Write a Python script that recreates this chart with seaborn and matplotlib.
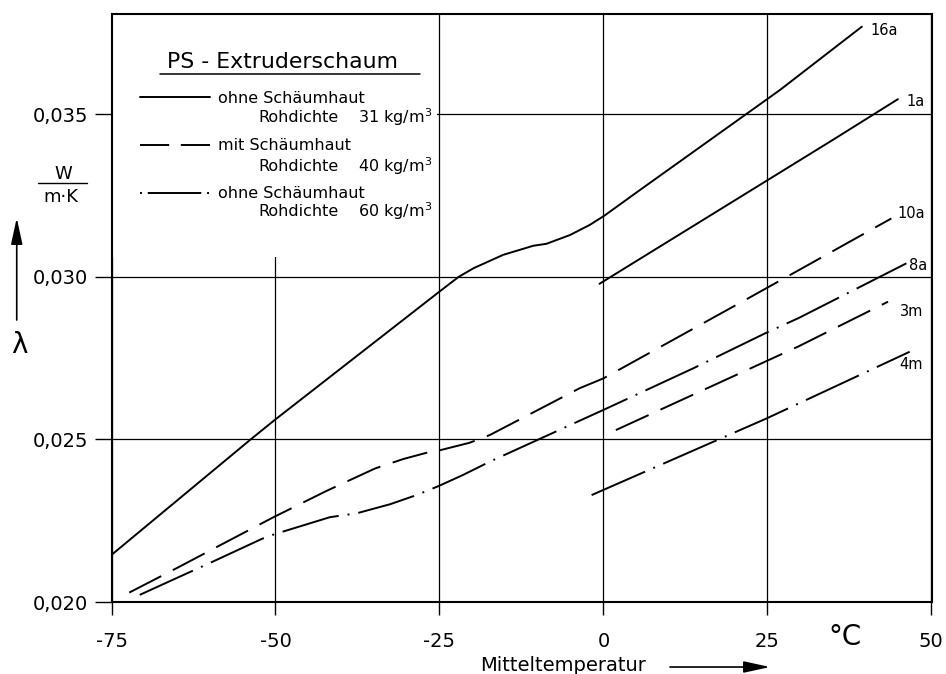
import matplotlib
matplotlib.use("Agg")
import numpy as np
import pandas as pd
import matplotlib.pyplot as plt
import seaborn as sns
from matplotlib.lines import Line2D
from matplotlib.patches import Rectangle

sns.set_style("white")
plt.rcParams['font.family'] = ['DejaVu Sans']
plt.rcParams['mathtext.fontset'] = 'dejavusans'
for key in ['text.color', 'axes.labelcolor', 'xtick.color', 'ytick.color', 'axes.edgecolor']:
    plt.rcParams[key] = 'black'

# ---------------- data ----------------
t_16a = [-75.0, -53.8, -50.0, -25.0, -22.1, -19.8, -15.3, -10.7, -8.7, -5.1, -2.1, 0.1, 5.6, 26.9, 39.4]
lam_16a = [0.02145, 0.02500, 0.02562, 0.02955, 0.03000, 0.03027, 0.03068, 0.03096, 0.03102, 0.03129,
           0.03160, 0.03188, 0.03268, 0.03575, 0.03770]

t_1a = [-0.6, 35.0, 44.9]
lam_1a = [0.02979, 0.03422, 0.03547]

t_10a = [-72.3, -64.8, -58.7, -50.3, -42.2, -34.8, -30.5, -27.0, -25.1, -20.4, -17.3, -3.6, 0.0, 21.6, 29.7, 43.9]
lam_10a = [0.02029, 0.02107, 0.02172, 0.02261, 0.02342, 0.02411, 0.02440, 0.02459, 0.02466, 0.02490,
           0.02514, 0.02658, 0.02688, 0.02929, 0.03020, 0.03180]

t_8a = [-70.7, -63.3, -59.8, -52.0, -50.1, -41.7, -37.6, -32.5, -28.5, -25.1, -21.4, -17.3, -3.6, 0.0,
        13.7, 24.9, 29.7, 46.2]
lam_8a = [0.02022, 0.02090, 0.02122, 0.02195, 0.02209, 0.02261, 0.02273, 0.02301, 0.02329, 0.02357,
          0.02391, 0.02432, 0.02558, 0.02591, 0.02719, 0.02829, 0.02873, 0.03042]

t_3m = [1.9, 29.7, 43.4]
lam_3m = [0.02529, 0.02786, 0.02924]

t_4m = [-1.8, 24.9, 46.7]
lam_4m = [0.02329, 0.02565, 0.02770]

curve_names = ["16a", "1a", "10a", "8a", "3m", "4m"]
x_ticks = [-75, -50, -25, 0, 25, 50]
x_ticklabels = ["-75", "-50", "-25", "0", "25", "50"]
y_ticks = [0.020, 0.025, 0.030, 0.035]
y_ticklabels = ["0,020", "0,025", "0,030", "0,035"]
legend_title = "PS - Extruderschaum"
legend_labels = ["ohne Schäumhaut", "mit Schäumhaut", "ohne Schäumhaut"]
legend_density = ["31 kg/m$^3$", "40 kg/m$^3$", "60 kg/m$^3$"]

series = {
    "16a": (t_16a, lam_16a),
    "1a": (t_1a, lam_1a),
    "10a": (t_10a, lam_10a),
    "8a": (t_8a, lam_8a),
    "3m": (t_3m, lam_3m),
    "4m": (t_4m, lam_4m),
}
df = pd.concat([pd.DataFrame({"T": t, "lam": v, "curve": n}) for n, (t, v) in series.items()],
               ignore_index=True)

# ---------------- styles ----------------
LW = 1.4
dash_long = (18.5, 6.7)
dash_dot = (30, 4.6, 1, 4.6)
dash_map = {"16a": "", "1a": "", "10a": dash_long, "3m": dash_long, "8a": dash_dot, "4m": dash_dot}

fig = plt.figure(figsize=(9.46, 6.74), dpi=100)
ax = fig.add_axes([0.1179, 0.1068, 0.8673, 0.8724])

sns.lineplot(data=df, x="T", y="lam", hue="curve", style="curve",
             palette={n: "black" for n in curve_names}, dashes=dash_map,
             estimator=None, sort=False, legend=False, lw=LW, ax=ax)

ax.set_xlim(-75, 50.1)
ax.set_ylim(0.020, 0.03809)
ax.set_xticks(x_ticks)
ax.set_xticklabels(x_ticklabels)
ax.set_yticks(y_ticks)
ax.set_yticklabels(y_ticklabels)
ax.set_xlabel("")
ax.set_ylabel("")

ax.set_axisbelow(True)
ax.grid(True, color="black", lw=0.9)
for s in ax.spines.values():
    s.set_visible(True)
    s.set_color("black")
    s.set_linewidth(1.5)
    s.set_zorder(10)
ax.tick_params(axis="x", bottom=True, direction="out", length=9.4, width=1.0, pad=12,
               labelsize=14, colors="black")
ax.tick_params(axis="y", left=True, direction="out", length=12, width=1.0, pad=5,
               labelsize=14, colors="black")

X0, X1, Y0, Y1 = 111.5, 932.0, 602.0, 14.0
def xf(px):
    return (px - X0) / (X1 - X0)
def yf(py):
    return (Y0 - py) / (Y0 - Y1)

# white box behind the legend hiding the grid
ax.add_patch(Rectangle((0.002, yf(257)), xf(437) - 0.002, 1 - yf(257) - 0.002,
                       transform=ax.transAxes, facecolor="white", edgecolor="none", zorder=1))

# curve labels at the line ends
label_offsets = {"16a": (6, -2.4), "1a": (6.5, -1.5), "10a": (4.5, 3.6),
                 "8a": (2, -1.5), "3m": (8.6, -7.2), "4m": (-7.2, -9.4)}
for n, (t, v) in series.items():
    ax.annotate(n, xy=(t[-1], v[-1]), xytext=label_offsets[n], textcoords="offset points",
                fontsize=10.5, ha="left", va="center")

# legend
LEG_FS = 11.5
handles = [Line2D([], [], color="black", lw=LW),
           Line2D([], [], color="black", lw=LW, dashes=(15, 6)),
           Line2D([], [], color="black", lw=LW, dashes=(1, 3, 27.5, 3))]
leg = ax.legend(handles, legend_labels, loc="upper left", bbox_to_anchor=(xf(140), yf(90.5)),
                frameon=False, fontsize=LEG_FS, handlelength=4.35, handletextpad=0.55,
                labelspacing=2.06, borderpad=0, borderaxespad=0)
leg.set_zorder(5)

ax.text(xf(282), yf(62), legend_title, transform=ax.transAxes, ha="center", va="center",
        fontsize=15.8, zorder=6)
ax.add_line(Line2D([xf(160), xf(420)], [yf(73.5), yf(73.5)], transform=ax.transAxes,
                   color="black", lw=1.1, zorder=6))
for py, dens in zip([117, 166, 211], legend_density):
    ax.text(xf(258), yf(py), "Rohdichte", transform=ax.transAxes, ha="left", va="center",
            fontsize=LEG_FS, zorder=6)
    ax.text(xf(358), yf(py), dens, transform=ax.transAxes, ha="left", va="center",
            fontsize=LEG_FS, zorder=6)

# y-axis quantity and unit
ax.text(xf(63), yf(174), "W", transform=ax.transAxes, ha="center", va="center",
        fontsize=13, clip_on=False)
ax.text(xf(61), yf(197), "m·K", transform=ax.transAxes, ha="center", va="center",
        fontsize=13, clip_on=False)
ax.add_line(Line2D([xf(38), xf(87)], [yf(183), yf(183)], transform=ax.transAxes,
                   color="black", lw=1.0, clip_on=False))
ax.annotate("", xy=(xf(16.7), yf(218)), xytext=(xf(16.7), yf(320)), xycoords="axes fraction",
            textcoords="axes fraction", annotation_clip=False,
            arrowprops=dict(arrowstyle="-|>,head_length=1.6,head_width=0.35", color="black",
                            lw=1.2, shrinkA=0, shrinkB=0))
ax.text(xf(19), yf(345), "λ", transform=ax.transAxes, ha="center", va="center",
        fontsize=20, clip_on=False)

# x-axis label, arrow and unit
ax.text(xf(563), yf(665), "Mitteltemperatur", transform=ax.transAxes, ha="center",
        va="center", fontsize=14, clip_on=False)
ax.annotate("", xy=(xf(770), yf(667)), xytext=(xf(670), yf(667)), xycoords="axes fraction",
            textcoords="axes fraction", annotation_clip=False,
            arrowprops=dict(arrowstyle="-|>,head_length=1.6,head_width=0.35", color="black",
                            lw=1.2, shrinkA=0, shrinkB=0))
ax.text(xf(845), yf(637), "°C", transform=ax.transAxes, ha="center", va="center",
        fontsize=20, clip_on=False)

fig.savefig("out.png", dpi=100)
